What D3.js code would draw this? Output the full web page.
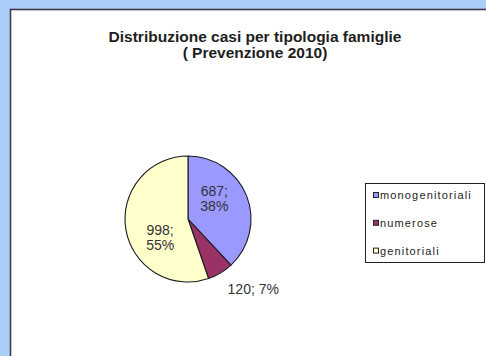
<!DOCTYPE html>
<html>
<head>
<meta charset="utf-8">
<script src="https://cdn.jsdelivr.net/npm/d3@7/dist/d3.min.js"></script>
<style>
  html, body { margin: 0; padding: 0; background: #a9cdf6; }
  svg { display: block; }
  text { font-family: "Liberation Sans", Arial, sans-serif; }
</style>
</head>
<body>
<script>
// Casi per tipologia di famiglia (Prevenzione 2010)
const categories = ["monogenitoriali", "numerose", "genitoriali"];
const values = [687, 120, 998];
const colors = ["#9999ff", "#993366", "#ffffcc"];
const titleLines = ["Distribuzione casi per tipologia famiglie", "( Prevenzione 2010)"];

const W = 486, H = 356;
const svg = d3.select("body").append("svg").attr("width", W).attr("height", H);

// chart area (white panel with dark frame on left/top)
svg.append("rect").attr("x", 10.5).attr("y", 9.5).attr("width", W).attr("height", H)
  .attr("fill", "#ffffff").attr("stroke", "#3c3c48").attr("stroke-width", 1.6);

// title
svg.append("text")
  .attr("x", 255).attr("y", 42)
  .attr("text-anchor", "middle")
  .attr("font-size", 15.5).attr("font-weight", "bold").attr("fill", "#1e1e1e")
  .selectAll("tspan").data(titleLines).join("tspan")
  .attr("x", 255).attr("dy", (d, i) => i === 0 ? 0 : 16)
  .text(d => d);

// pie
const cx = 188, cy = 219, R = 63;
const total = d3.sum(values);
const data = categories.map((c, i) => ({ cat: c, value: values[i], color: colors[i] }));
const pie = d3.pie().value(d => d.value).sort(null);
const arcs = pie(data);
const arc = d3.arc().innerRadius(0).outerRadius(R);

const g = svg.append("g").attr("transform", `translate(${cx},${cy})`);
g.selectAll("path").data(arcs).join("path")
  .attr("d", arc)
  .attr("fill", d => d.data.color)
  .attr("stroke", "#1c1c24").attr("stroke-width", 1.1)
  .attr("stroke-linejoin", "round");

// data labels "valore; percentuale"
const pct = v => Math.round(v / total * 100) + "%";
arcs.forEach(a => {
  const span = a.endAngle - a.startAngle;
  const lbl = g.append("text").attr("font-size", 14).attr("fill", "#333338");
  if (span > 0.6) {
    // inside, two lines
    const ang = a.startAngle + span * 0.38;
    const rr = R * 0.53;
    const x = Math.sin(ang) * rr, y = -Math.cos(ang) * rr;
    lbl.attr("text-anchor", "middle");
    lbl.append("tspan").attr("x", x).attr("y", y - 2).text(a.data.value + ";");
    lbl.append("tspan").attr("x", x).attr("y", y + 13).text(pct(a.data.value));
  } else {
    // outside, one line
    const ang = (a.startAngle + a.endAngle) / 2;
    const rr = R + 8;
    const x = Math.sin(ang) * rr, y = -Math.cos(ang) * rr;
    lbl.attr("text-anchor", "start")
      .attr("x", x + 3).attr("y", y + 14)
      .text(a.data.value + "; " + pct(a.data.value));
  }
});

// legend
const lg = svg.append("g");
lg.append("rect").attr("x", 365.5).attr("y", 183.5).attr("width", 119).attr("height", 79)
  .attr("fill", "#ffffff").attr("stroke", "#222228").attr("stroke-width", 1);
const rows = lg.selectAll("g.item").data(data).join("g").attr("class", "item")
  .attr("transform", (d, i) => `translate(373, ${195 + i * 27.8})`);
rows.append("rect").attr("x", 0.5).attr("y", -2.5).attr("width", 5).attr("height", 5)
  .attr("fill", d => d.color).attr("stroke", "#222228").attr("stroke-width", 1);
rows.append("text").attr("x", 7).attr("y", 4)
  .attr("font-size", 11).attr("fill", "#1e1e1e").attr("letter-spacing", 1.15)
  .text(d => d.cat);
</script>
</body>
</html>
